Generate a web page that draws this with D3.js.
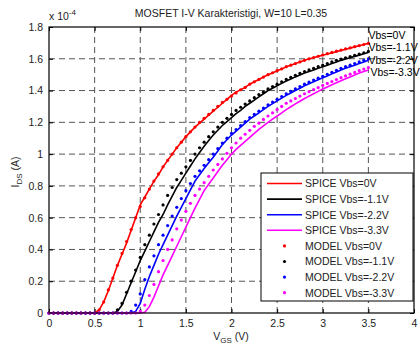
<!DOCTYPE html>
<html>
<head>
<meta charset="utf-8">
<script src="https://cdn.jsdelivr.net/npm/d3@7"></script>
<style>
  body { margin: 0; background: #fff; }
  svg { font-family: Arial, "Liberation Sans", sans-serif; }
</style>
</head>
<body>
<svg id="chart" width="420" height="347"></svg>
<script>
// Tensões de porta (V), passo de 0.05 V
const vgs = d3.range(0, 71).map(i => +(i * 0.05).toFixed(2));

// Correntes IDS em unidades de 1e-4 A
const spice0 = [0,0,0,0,0,0,0,0,0,0,
  0,0.02,0.07,0.14,0.22,0.30,0.37,0.44,0.52,0.60,0.68,0.73,0.78,0.83,0.87,0.92,0.96,1.00,1.04,1.075,
  1.11,1.14,1.17,1.195,1.22,1.245,1.27,1.295,1.32,1.345,1.37,1.39,1.405,1.42,1.44,1.455,1.47,1.485,1.50,1.51,
  1.525,1.535,1.55,1.56,1.57,1.58,1.59,1.60,1.607,1.615,1.622,1.63,1.637,1.645,1.652,1.66,1.667,1.675,1.682,1.69,1.697];
const spice11 = [0,0,0,0,0,0,0,0,0,0,0,0,0,0,
  0,0.01,0.05,0.12,0.19,0.26,0.33,0.39,0.45,0.51,0.57,0.62,0.68,0.735,0.79,0.835,0.88,0.925,0.97,1.01,1.05,1.085,
  1.12,1.15,1.18,1.205,1.23,1.255,1.275,1.30,1.32,1.34,1.36,1.38,1.40,1.415,1.43,1.445,1.46,1.473,1.486,1.498,
  1.51,1.52,1.53,1.54,1.55,1.56,1.57,1.58,1.59,1.598,1.607,1.615,1.623,1.631,1.64];
const spice22 = [0,0,0,0,0,0,0,0,0,0,0,0,0,0,0,0,0,0,0,
  0.01,0.06,0.15,0.23,0.30,0.37,0.43,0.49,0.55,0.61,0.665,0.72,0.775,0.83,0.87,0.91,0.945,0.98,1.02,1.06,1.09,
  1.12,1.145,1.17,1.195,1.22,1.24,1.26,1.28,1.30,1.318,1.335,1.352,1.37,1.385,1.40,1.415,1.43,1.443,1.456,1.468,
  1.48,1.492,1.505,1.517,1.53,1.54,1.55,1.56,1.57,1.58,1.59];
const spice33 = [0,0,0,0,0,0,0,0,0,0,0,0,0,0,0,0,0,0,0,0,0,
  0.005,0.04,0.10,0.17,0.24,0.30,0.36,0.42,0.48,0.54,0.60,0.66,0.715,0.77,0.81,0.85,0.89,0.93,0.965,
  1.00,1.03,1.055,1.08,1.105,1.13,1.155,1.178,1.20,1.22,1.24,1.26,1.28,1.298,1.316,1.333,1.35,1.365,1.38,1.395,
  1.41,1.423,1.436,1.449,1.462,1.474,1.486,1.498,1.51,1.52,1.53];

const model0 = [0,0,0,0,0,0,0,0,0,0,
  0,0.02,0.07,0.145,0.22,0.30,0.375,0.45,0.525,0.60,0.67,0.725,0.78,0.83,0.875,0.92,0.96,1.00,1.04,1.075,
  1.11,1.14,1.17,1.20,1.225,1.25,1.275,1.30,1.325,1.345,1.365,1.385,1.405,1.42,1.44,1.455,1.47,1.485,1.50,1.512,
  1.525,1.537,1.55,1.56,1.57,1.58,1.59,1.60,1.608,1.616,1.624,1.632,1.64,1.648,1.655,1.662,1.669,1.676,1.683,1.69,1.697];
const model11 = [0,0,0,0,0,0,0,0,0,0,0,0,0,0,0,
  0.02,0.06,0.13,0.20,0.27,0.35,0.43,0.49,0.56,0.62,0.68,0.74,0.79,0.84,0.88,0.92,0.96,1.00,1.04,1.075,
  1.11,1.14,1.17,1.20,1.225,1.25,1.275,1.295,1.315,1.335,1.355,1.375,1.39,1.41,1.425,1.44,1.455,1.47,1.483,1.496,
  1.508,1.52,1.53,1.54,1.55,1.56,1.57,1.58,1.59,1.598,1.606,1.614,1.622,1.63,1.638,1.646];
const model22 = [0,0,0,0,0,0,0,0,0,0,0,0,0,0,0,0,0,0,
  0.01,0.05,0.12,0.21,0.29,0.36,0.43,0.49,0.55,0.61,0.665,0.72,0.77,0.815,0.86,0.895,0.93,0.965,1.00,1.035,1.07,1.10,
  1.13,1.155,1.18,1.205,1.23,1.25,1.27,1.29,1.31,1.328,1.345,1.362,1.38,1.395,1.41,1.425,1.44,1.453,1.466,1.478,
  1.49,1.502,1.515,1.527,1.54,1.55,1.56,1.57,1.58,1.59,1.60];
const model33 = [0,0,0,0,0,0,0,0,0,0,0,0,0,0,0,0,0,0,0,0,
  0.01,0.05,0.11,0.18,0.26,0.33,0.40,0.46,0.53,0.585,0.64,0.69,0.74,0.78,0.82,0.86,0.90,0.935,0.97,1.005,
  1.04,1.07,1.10,1.125,1.15,1.175,1.195,1.218,1.24,1.26,1.28,1.30,1.32,1.335,1.35,1.365,1.38,1.393,1.406,1.419,
  1.432,1.445,1.457,1.469,1.481,1.492,1.503,1.514,1.525,1.535,1.545];

const seriesColors = ["#ff0000", "#000000", "#0000ff", "#ff00ff"];
const spiceSeries = [spice0, spice11, spice22, spice33];
const modelSeries = [model0, model11, model22, model33];
const legendLabels = ["SPICE Vbs=0V", "SPICE Vbs=-1.1V", "SPICE Vbs=-2.2V", "SPICE Vbs=-3.3V",
  "MODEL Vbs=0V", "MODEL Vbs=-1.1V", "MODEL Vbs=-2.2V", "MODEL Vbs=-3.3V"];
const endLabels = ["Vbs=0V", "Vbs=-1.1V", "Vbs=-2.2V", "Vbs=-3.3V"];
const xTicks = [0, 0.5, 1, 1.5, 2, 2.5, 3, 3.5, 4];
const yTicks = [0, 0.2, 0.4, 0.6, 0.8, 1, 1.2, 1.4, 1.6, 1.8];

const svg = d3.select("#chart");
const pLeft = 49, pRight = 414, pTop = 27, pBottom = 313;

const x = d3.scaleLinear().domain([0, 4]).range([pLeft, pRight]);
const y = d3.scaleLinear().domain([0, 1.8]).range([pBottom, pTop]);

// grade tracejada
const grid = svg.append("g").attr("stroke", "#555").attr("stroke-dasharray", "6,4").attr("stroke-width", 1);
xTicks.slice(1, -1).forEach(t => {
  grid.append("line").attr("x1", x(t)).attr("x2", x(t)).attr("y1", pBottom).attr("y2", pTop);
});
yTicks.slice(1, -1).forEach(t => {
  grid.append("line").attr("x1", pLeft).attr("x2", pRight).attr("y1", y(t)).attr("y2", y(t));
});

// eixos
const fmt = d => d3.format("~g")(d);
const axB = svg.append("g").attr("transform", `translate(0,${pBottom})`)
  .call(d3.axisBottom(x).tickValues(xTicks).tickSizeInner(-4).tickSizeOuter(0).tickPadding(7).tickFormat(fmt));
const axL = svg.append("g").attr("transform", `translate(${pLeft},0)`)
  .call(d3.axisLeft(y).tickValues(yTicks).tickSizeInner(-4).tickSizeOuter(0).tickPadding(6).tickFormat(fmt));
const axT = svg.append("g").attr("transform", `translate(0,${pTop})`)
  .call(d3.axisTop(x).tickValues(xTicks).tickSizeInner(-4).tickSizeOuter(0).tickFormat(""));
const axR = svg.append("g").attr("transform", `translate(${pRight},0)`)
  .call(d3.axisRight(y).tickValues(yTicks).tickSizeInner(-4).tickSizeOuter(0).tickFormat(""));
[axB, axL, axT, axR].forEach(a => {
  a.select(".domain").remove();
  a.selectAll("text").attr("font-size", 10.5).attr("fill", "#222").attr("font-family", "Arial, 'Liberation Sans', sans-serif");
});

// curvas SPICE
const line = d3.line().x((d, i) => x(vgs[i])).y(d => y(d));
spiceSeries.forEach((s, k) => {
  svg.append("path").datum(s)
    .attr("fill", "none").attr("stroke", seriesColors[k]).attr("stroke-width", 1.6)
    .attr("d", line);
});

// pontos do modelo
modelSeries.forEach((s, k) => {
  svg.append("g").selectAll("circle").data(s).join("circle")
    .attr("cx", (d, i) => x(vgs[i])).attr("cy", d => y(d))
    .attr("r", 1.6).attr("fill", seriesColors[k]);
});

// moldura
svg.append("rect").attr("x", pLeft).attr("y", pTop).attr("width", pRight - pLeft).attr("height", pBottom - pTop)
  .attr("fill", "none").attr("stroke", "#000").attr("stroke-width", 1.2);

// rótulos no fim das curvas
const endY = [39, 51, 64, 76];
endLabels.forEach((t, k) => {
  svg.append("text").attr("x", x(3.5) + (k === 3 ? 2 : 0)).attr("y", endY[k])
    .attr("font-size", 10.5).attr("fill", "#000").text(t);
});

// legenda
const lg = svg.append("g");
lg.append("rect").attr("x", 261).attr("y", 173).attr("width", 152).attr("height", 128)
  .attr("fill", "#fff").attr("stroke", "#000").attr("stroke-width", 1);
legendLabels.forEach((t, i) => {
  const ly = 183.5 + i * 15.6;
  const c = seriesColors[i % 4];
  if (i < 4) {
    lg.append("line").attr("x1", 267).attr("x2", 302).attr("y1", ly).attr("y2", ly)
      .attr("stroke", c).attr("stroke-width", 1.6);
  } else {
    lg.append("circle").attr("cx", 284.5).attr("cy", ly).attr("r", 1.6).attr("fill", c);
  }
  lg.append("text").attr("x", 305).attr("y", ly + 3.8).attr("font-size", 10.5).attr("fill", "#222").text(t);
});

// título e rótulos dos eixos
svg.append("text").attr("x", 231).attr("y", 17).attr("text-anchor", "middle")
  .attr("font-size", 10.5).attr("fill", "#222").text("MOSFET I-V Karakteristigi, W=10 L=0.35");

const mult = svg.append("text").attr("x", 49).attr("y", 20).attr("font-size", 10.5).attr("fill", "#222");
mult.append("tspan").text("x 10");
mult.append("tspan").attr("dy", -5).attr("font-size", 8).text("-4");

const xl = svg.append("text").attr("x", 231).attr("y", 340).attr("text-anchor", "middle")
  .attr("font-size", 10.5).attr("fill", "#222");
xl.append("tspan").text("V");
xl.append("tspan").attr("dy", 3).attr("font-size", 8).text("GS");
xl.append("tspan").attr("dy", -3).text(" (V)");

const yl = svg.append("text").attr("transform", "translate(19,172) rotate(-90)").attr("text-anchor", "middle")
  .attr("font-size", 10.5).attr("fill", "#222");
yl.append("tspan").text("I");
yl.append("tspan").attr("dy", 3).attr("font-size", 8).text("DS");
yl.append("tspan").attr("dy", -3).text(" (A)");
</script>
</body>
</html>
